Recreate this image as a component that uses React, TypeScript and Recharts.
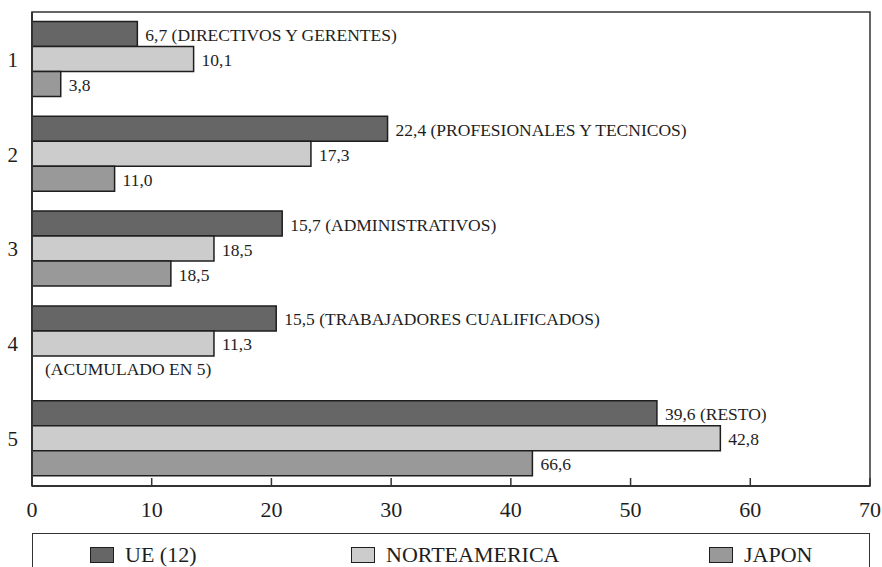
import React from "react";
import {
  BarChart,
  Bar,
  XAxis,
  YAxis,
  Legend,
  LabelList,
  ReferenceArea,
} from "recharts";

// ---- data ----
const categories = ["1", "2", "3", "4", "5"];
const seriesNames = ["UE (12)", "NORTEAMERICA", "JAPON"];
const ueValues = [8.8, 29.7, 20.9, 20.4, 52.2];
const naValues = [13.5, 23.3, 15.2, 15.2, 57.5];
const jpValues = [2.4, 6.9, 11.6, 0, 41.8];
const ueLabels = [
  "6,7 (DIRECTIVOS Y GERENTES)",
  "22,4 (PROFESIONALES Y TECNICOS)",
  "15,7 (ADMINISTRATIVOS)",
  "15,5 (TRABAJADORES CUALIFICADOS)",
  "39,6 (RESTO)",
];
const naLabels = ["10,1", "17,3", "18,5", "11,3", "42,8"];
const jpLabels = ["3,8", "11,0", "18,5", "(ACUMULADO EN 5)", "66,6"];
const xTicks = [0, 10, 20, 30, 40, 50, 60, 70];

const data = categories.map((c, i) => ({
  cat: c,
  ue: ueValues[i],
  na: naValues[i],
  jp: jpValues[i],
  ueText: ueLabels[i],
  naText: naLabels[i],
  jpText: jpLabels[i],
}));

// ---- style ----
const FONT = "'Liberation Serif', 'DejaVu Serif', serif";
const INK = "#1e1e1e";
const COLORS = ["#666666", "#cccccc", "#999999"];
const LEGEND_LEFT = [57, 318, 676];

const box = (props: any) => {
  const vb = props.viewBox ?? {};
  return {
    x: Number(props.x ?? vb.x),
    y: Number(props.y ?? vb.y),
    w: Number(props.width ?? vb.width) || 0,
    h: Number(props.height ?? vb.height) || 0,
  };
};

const labelText = (x: number, y: number, text: string) => (
  <text
    x={x}
    y={y}
    dominantBaseline="central"
    fontSize={17.5}
    fontFamily={FONT}
    fill={INK}
  >
    {text}
  </text>
);

// label right of a bar's end
const endLabel = (props: any) => {
  const { x, y, w, h } = box(props);
  if (!props.value || w <= 0) return null;
  return labelText(x + w + 8, y + h / 2 + 1, String(props.value));
};

// label for an empty JAPON bar, drawn in its slot just below the NORTEAMERICA bar
const emptySlotLabel = (props: any) => {
  const { x, y, h } = box(props);
  const i = props.index;
  if (typeof i !== "number" || jpValues[i] !== 0) return null;
  return labelText(x + 13, y + h * 1.5 + 1, jpLabels[i]);
};

const LegendBox = () => (
  <div
    style={{
      position: "relative",
      marginLeft: 32,
      width: 838,
      height: 34,
      boxSizing: "border-box",
      borderTop: "1.5px solid #333",
      borderLeft: "1.5px solid #333",
      borderRight: "1.5px solid #333",
      fontFamily: FONT,
      fontSize: 22,
      color: INK,
    }}
  >
    {seriesNames.map((name, i) => (
      <div
        key={name}
        style={{
          position: "absolute",
          left: LEGEND_LEFT[i],
          top: 10,
          display: "flex",
          alignItems: "center",
          whiteSpace: "nowrap",
          lineHeight: "22px",
        }}
      >
        <span
          style={{
            display: "inline-block",
            width: 24,
            height: 16,
            boxSizing: "border-box",
            background: COLORS[i],
            border: `1.5px solid ${INK}`,
            marginRight: 11,
          }}
        />
        <span>{name}</span>
      </div>
    ))}
  </div>
);

export default function App() {
  return (
    <div style={{ position: "absolute", left: 0, top: 0, background: "#fff" }}>
      <BarChart
        width={882}
        height={567}
        data={data}
        layout="vertical"
        margin={{ top: 12, right: 12, bottom: 0, left: 0 }}
        barCategoryGap="10%"
        barGap={0}
      >
        <XAxis
          type="number"
          domain={[0, 70]}
          ticks={xTicks}
          interval={0}
          height={47}
          tickSize={-8}
          tickMargin={23}
          axisLine={{ stroke: "#333", strokeWidth: 2 }}
          tickLine={{ stroke: "#333", strokeWidth: 1.5 }}
          tick={{ fontSize: 22, fontFamily: FONT, fill: INK }}
          allowDataOverflow
        />
        <YAxis
          type="category"
          dataKey="cat"
          width={32}
          tickLine={false}
          tickSize={0}
          tickMargin={14}
          axisLine={{ stroke: "#333", strokeWidth: 2 }}
          tick={{ fontSize: 21, fontFamily: FONT, fill: INK }}
        />
        <ReferenceArea
          x1={0}
          x2={70}
          fill="none"
          stroke="#333"
          strokeWidth={1.5}
          isFront={false}
        />
        <Legend
          verticalAlign="bottom"
          content={<LegendBox />}
          wrapperStyle={{ left: 0, width: 882 }}
        />
        <Bar
          dataKey="ue"
          name={seriesNames[0]}
          fill={COLORS[0]}
          stroke={INK}
          strokeWidth={1.5}
          isAnimationActive={false}
        >
          <LabelList dataKey="ueText" content={endLabel} />
        </Bar>
        <Bar
          dataKey="na"
          name={seriesNames[1]}
          fill={COLORS[1]}
          stroke={INK}
          strokeWidth={1.5}
          isAnimationActive={false}
        >
          <LabelList dataKey="naText" content={endLabel} />
          <LabelList dataKey="jpText" content={emptySlotLabel} />
        </Bar>
        <Bar
          dataKey="jp"
          name={seriesNames[2]}
          fill={COLORS[2]}
          stroke={INK}
          strokeWidth={1.5}
          isAnimationActive={false}
        >
          <LabelList dataKey="jpText" content={endLabel} />
        </Bar>
      </BarChart>
    </div>
  );
}
